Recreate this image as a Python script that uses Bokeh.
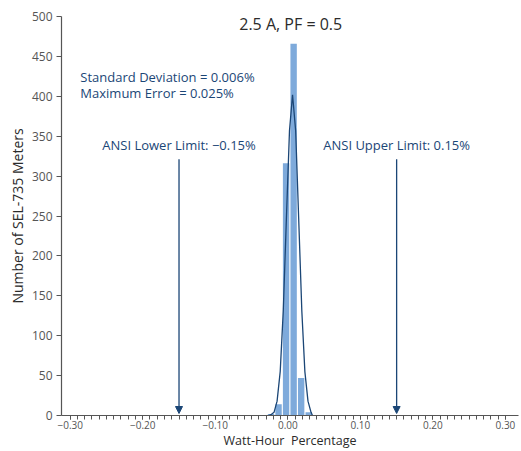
from bokeh.plotting import figure
from bokeh.models import Label, Arrow, NormalHead, FixedTicker, Range1d
from bokeh.embed import file_html
from bokeh.resources import INLINE

# ---- data ----
bin_centers = [-0.0232, -0.0128, -0.0024, 0.0080, 0.0184, 0.0288]
bin_counts = [2, 14, 316, 466, 47, 4]

curve_x = [-0.0266, -0.0233, -0.0190, -0.0148, -0.0105, -0.0063, -0.0020, 0.0023,
           0.0065, 0.0108, 0.0150, 0.0193, 0.0235, 0.0278, 0.0320, 0.0340]
curve_y = [0, 1, 4, 18, 55, 131, 246, 357, 402, 357, 246, 131, 55, 18, 4, 0]

x_ticks = [-0.3, -0.2, -0.1, 0.0, 0.1, 0.2, 0.3]
x_tick_labels = ["\u22120.30", "\u22120.20", "\u22120.10", "0.00", "0.10", "0.20", "0.30"]
y_ticks = [0, 50, 100, 150, 200, 250, 300, 350, 400, 450, 500]

title_text = "2.5 A, PF = 0.5"
x_title = "Watt-Hour\u00a0 Percentage"
y_title = "Number of SEL-735 Meters"
stats_lines = ["Standard Deviation = 0.006%", "Maximum Error = 0.025%"]
limits = [-0.15, 0.15]
limit_labels = ["ANSI Lower Limit: \u22120.15%", "ANSI Upper Limit: 0.15%"]

FONT = "Open Sans"
NAVY = "#1b4676"
BAR = "#7eaadb"
AX = "#555555"

p = figure(width=521, height=451, output_backend="svg", toolbar_location=None,
           x_range=Range1d(-0.312, 0.318), y_range=Range1d(0, 500),
           min_border_left=61, min_border_right=3, min_border_top=16, min_border_bottom=35)
p.outline_line_color = None
p.grid.grid_line_color = None
p.background_fill_color = "white"

# bars
p.vbar(x=bin_centers, top=bin_counts, width=0.0088, fill_color=BAR, line_color=None)
# fitted curve
p.line(curve_x, curve_y, line_color=NAVY, line_width=1.3)

# axes
xa = p.xaxis[0]
xa.ticker = FixedTicker(ticks=x_ticks, minor_ticks=[round(-0.30 + 0.01 * i, 2) for i in range(61)])
xa.major_label_overrides = {t: l for t, l in zip(x_ticks, x_tick_labels)}
xa.axis_label = x_title
xa.major_tick_out = 4
xa.major_tick_in = 0
xa.minor_tick_out = 4
xa.minor_tick_in = 0
xa.major_label_standoff = 1
xa.axis_label_standoff = 0

ya = p.yaxis[0]
ya.ticker = FixedTicker(ticks=y_ticks, minor_ticks=[])
ya.axis_label = y_title
ya.major_tick_out = 5
ya.major_tick_in = 0
ya.minor_tick_out = 0
ya.major_label_standoff = 4
ya.axis_label_standoff = 2

for ax in (xa, ya):
    ax.axis_line_color = AX
    ax.axis_line_width = 1.2
    ax.major_tick_line_color = AX
    ax.minor_tick_line_color = AX
    ax.major_label_text_font = FONT
    ax.major_label_text_color = "#555555"
    ax.axis_label_text_font = FONT
    ax.axis_label_text_font_style = "normal"
    ax.axis_label_text_color = "#2b2b2b"
xa.major_label_text_font_size = "10px"
ya.major_label_text_font_size = "12px"
xa.axis_label_text_font_size = "12.5px"
ya.axis_label_text_font_size = "14px"

# title inside plot
p.add_layout(Label(x=0.004, y=491, text=title_text, text_align="center", text_baseline="middle",
                   text_font=FONT, text_font_size="16px", text_color="#2b2b2b"))

# stats
p.add_layout(Label(x=-0.286, y=424, text=stats_lines[0], text_align="left", text_baseline="middle",
                   text_font=FONT, text_font_size="13px", text_color=NAVY))
p.add_layout(Label(x=-0.286, y=404, text=stats_lines[1], text_align="left", text_baseline="middle",
                   text_font=FONT, text_font_size="13px", text_color=NAVY))

# limits
for lim, lab in zip(limits, limit_labels):
    p.add_layout(Label(x=lim, y=339, text=lab, text_align="center", text_baseline="middle",
                       text_font=FONT, text_font_size="13px", text_color=NAVY))
    p.add_layout(Arrow(x_start=lim, y_start=321, x_end=lim, y_end=2.5,
                       line_color=NAVY, line_width=1.3,
                       end=NormalHead(size=7, fill_color=NAVY, line_color=NAVY)))

open("out.html", "w").write(file_html(p, INLINE))
